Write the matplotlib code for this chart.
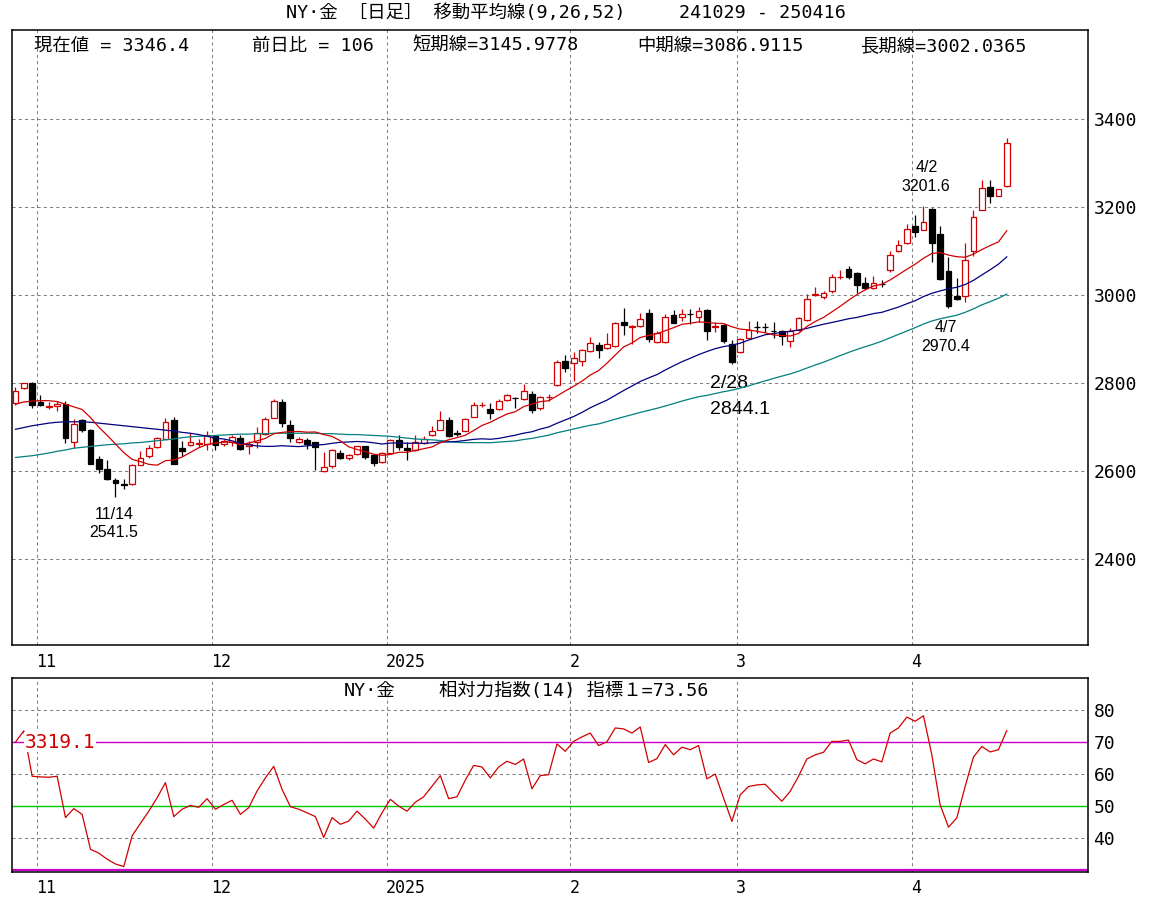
import numpy as np
import pandas as pd
import matplotlib
matplotlib.use("Agg")
import matplotlib.pyplot as plt
from matplotlib.patches import Rectangle
from matplotlib.transforms import blended_transform_factory

MONO = ['DejaVu Sans Mono', 'Noto Sans CJK JP']
SANS = ['Liberation Sans', 'DejaVu Sans']
plt.rcParams['font.family'] = MONO

# ---------------- data ----------------
dates = pd.bdate_range('2024-10-29', '2025-04-16')
dates = dates[~dates.isin(pd.to_datetime(['2024-12-25', '2025-01-01']))]

opens = [2754, 2788, 2800, 2758, 2745, 2747, 2753, 2667, 2715, 2694,
         2627, 2604, 2579, 2570, 2571, 2615, 2634, 2655, 2674, 2716,
         2652, 2660, 2662, 2662, 2679, 2662, 2667, 2676, 2656, 2666,
         2685, 2721, 2756, 2705, 2667, 2671, 2665, 2601, 2611, 2641,
         2630, 2639, 2656, 2637, 2620, 2641, 2671, 2653, 2648, 2663,
         2681, 2694, 2717, 2686, 2692, 2724, 2750, 2740, 2740, 2761,
         2766, 2763, 2776, 2743, 2768, 2795, 2851, 2845, 2850, 2873,
         2886, 2880, 2884, 2939, 2928, 2930, 2960, 2894, 2894, 2955,
         2951, 2958, 2950, 2967, 2928, 2931, 2888, 2870, 2903, 2928,
         2928, 2919, 2918, 2895, 2920, 2943, 3001, 2995, 3008, 3040,
         3059, 3051, 3027, 3017, 3025, 3056, 3099, 3118, 3157, 3148,
         3195, 3139, 3055, 2998, 2998, 3101, 3194, 3246, 3226, 3247]
highs = [2790, 2801, 2802, 2774, 2756, 2760, 2759, 2718, 2718, 2695,
         2634, 2625, 2585, 2582, 2617, 2645, 2660, 2678, 2721, 2724,
         2669, 2687, 2673, 2692, 2682, 2673, 2681, 2681, 2668, 2701,
         2724, 2763, 2763, 2717, 2677, 2676, 2667, 2643, 2650, 2648,
         2640, 2658, 2658, 2639, 2643, 2673, 2683, 2665, 2681, 2679,
         2702, 2736, 2724, 2694, 2721, 2757, 2758, 2755, 2763, 2776,
         2768, 2798, 2781, 2771, 2776, 2853, 2863, 2870, 2878, 2905,
         2894, 2913, 2939, 2970, 2932, 2959, 2968, 2919, 2957, 2965,
         2968, 2968, 2973, 2969, 2939, 2934, 2897, 2903, 2941, 2941,
         2937, 2939, 2921, 2924, 2950, 3002, 3018, 3010, 3048, 3057,
         3066, 3053, 3042, 3043, 3034, 3099, 3125, 3162, 3182, 3201.6,
         3198, 3157, 3087, 3038, 3118, 3194, 3262, 3262, 3241, 3357]
lows = [2750, 2786, 2744, 2747, 2741, 2737, 2663, 2652, 2689, 2616,
        2596, 2579, 2541.5, 2560, 2569, 2613, 2630, 2653, 2672, 2616,
        2634, 2656, 2654, 2647, 2647, 2658, 2656, 2647, 2639, 2652,
        2683, 2721, 2700, 2666, 2663, 2650, 2602, 2599, 2607, 2627,
        2626, 2637, 2627, 2611, 2618, 2640, 2647, 2625, 2646, 2662,
        2679, 2693, 2677, 2679, 2691, 2723, 2746, 2719, 2738, 2759,
        2744, 2761, 2733, 2739, 2760, 2794, 2825, 2805, 2838, 2871,
        2857, 2878, 2882, 2909, 2888, 2928, 2894, 2890, 2890, 2936,
        2942, 2934, 2939, 2898, 2916, 2891, 2844.1, 2868, 2901, 2914,
        2916, 2903, 2887, 2883, 2918, 2941, 2998, 2992, 3005, 3036,
        3036, 3004, 3013, 3013, 3019, 3053, 3097, 3116, 3132, 3147,
        3074, 3034, 2970.4, 2989, 2985, 3089, 3192, 3209, 3224, 3246]
closes = [2783, 2800, 2750, 2750, 2747, 2753, 2676, 2707, 2694, 2617,
          2605, 2583, 2574, 2569, 2615, 2630, 2652, 2675, 2711, 2617,
          2646, 2667, 2664, 2682, 2660, 2669, 2677, 2650, 2662, 2686,
          2719, 2759, 2710, 2676, 2672, 2662, 2654, 2610, 2647, 2629,
          2637, 2656, 2631, 2618, 2641, 2671, 2654, 2648, 2666, 2673,
          2692, 2717, 2679, 2685, 2719, 2751, 2751, 2732, 2760, 2773,
          2765, 2782, 2738, 2769, 2769, 2848, 2834, 2857, 2876, 2891,
          2874, 2888, 2937, 2933, 2930, 2945, 2901, 2913, 2949, 2936,
          2957, 2957, 2963, 2918, 2929, 2895, 2847, 2901, 2921, 2927,
          2927, 2918, 2908, 2918, 2947, 2990, 3002, 3005, 3040, 3041,
          3042, 3023, 3015, 3027, 3024, 3091, 3113, 3150, 3144, 3165,
          3119, 3036, 2975, 2990, 3080, 3177, 3243, 3226, 3240.4, 3346.4]

# moving-average values before enough closes exist
ma9_head = [2752, 2757, 2759, 2760, 2760, 2758, 2752, 2746]
ma26_head = [2695, 2699, 2703, 2706, 2709, 2711, 2712, 2712, 2712, 2711,
             2709, 2707, 2705, 2703, 2701, 2699, 2697, 2695, 2693, 2691,
             2688, 2686, 2683, 2679, 2675]
ma52_head = [2631, 2633, 2635, 2638, 2641, 2645, 2648, 2652, 2654, 2656,
             2658, 2660, 2661, 2662, 2664, 2665, 2667, 2669, 2671, 2673,
             2676, 2678, 2679, 2680, 2681, 2682, 2683, 2684, 2684, 2685,
             2685, 2686, 2686, 2686, 2686, 2686, 2686, 2685, 2685, 2684,
             2683, 2683, 2682, 2681, 2680, 2679, 2677, 2675, 2673, 2672,
             2671]

rsi14 = [70.0, 73.5, 59.3, 59.1, 59.0, 59.3, 46.4, 49.2, 47.4, 36.5,
         35.3, 33.4, 31.9, 31.1, 40.7, 44.6, 48.4, 52.6, 57.3, 46.7,
         49.0, 50.2, 49.6, 52.3, 49.0, 50.5, 51.8, 47.4, 49.5, 54.7,
         58.8, 62.4, 55.2, 49.8, 49.0, 47.9, 46.7, 40.2, 46.4, 44.3,
         45.3, 48.4, 45.9, 43.1, 47.9, 52.1, 50.0, 48.4, 51.2, 52.9,
         56.2, 59.5, 52.3, 52.9, 58.1, 62.7, 62.2, 58.8, 62.2, 64.0,
         63.0, 64.7, 55.4, 59.5, 59.8, 69.4, 67.1, 70.2, 71.6, 72.8,
         68.9, 70.1, 74.4, 74.1, 72.8, 74.7, 63.6, 64.8, 69.2, 66.0,
         68.4, 67.6, 68.9, 58.5, 60.0, 52.5, 45.2, 53.5, 56.1, 56.6,
         56.8, 54.1, 51.5, 54.6, 59.3, 64.7, 66.0, 66.8, 70.2, 70.2,
         70.6, 64.5, 63.2, 64.7, 63.8, 72.8, 74.4, 77.8, 76.5, 78.2,
         66.0, 50.4, 43.4, 46.3, 56.1, 65.3, 68.6, 66.9, 67.6, 73.56]

price_ticks = [2400, 2600, 2800, 3000, 3200, 3400]
rsi_ticks = [40, 50, 60, 70, 80]

title_left = 'NY·金 ［日足］ 移動平均線(9,26,52)'
title_right = '241029 - 250416'
header = ['現在値 = 3346.4', '前日比 = 106', '短期線=3145.9778',
          '中期線=3086.9115', '長期線=3002.0365']
rsi_title_left = 'NY·金'
rsi_title_right = '相対力指数(14) 指標１=73.56'
marks = [(12, '11/14', '2541.5'), (86, '2/28', '2844.1'),
         (109, '4/2', '3201.6'), (112, '4/7', '2970.4')]

# ---------------- derived ----------------
n = len(closes)
cs = pd.Series(closes, dtype=float)
ma9 = cs.rolling(9).mean().to_numpy()
ma9[:len(ma9_head)] = ma9_head
ma26 = cs.rolling(26).mean().to_numpy()
ma26[:len(ma26_head)] = ma26_head
ma52 = cs.rolling(52).mean().to_numpy()
ma52[:len(ma52_head)] = ma52_head

month_starts = [i for i in range(1, n) if dates[i].month != dates[i - 1].month]
month_labels = [str(dates[i].year) if dates[i].month == 1 else str(dates[i].month)
                for i in month_starts]

# ---------------- figure ----------------
W, H = 1171, 902
fig = plt.figure(figsize=(W / 100, H / 100), dpi=100)
fig.patch.set_facecolor('white')


def fx(px):
    return px / W


def fy(py):
    return 1 - py / H


ax = fig.add_axes([fx(12), fy(645), fx(1088) - fx(12), fy(30) - fy(645)])
ax2 = fig.add_axes([fx(12), fy(872), fx(1088) - fx(12), fy(678) - fy(872)])

XL = (-0.42, 128.75)
RED = '#d00000'
NAVY = '#000080'
TEAL = '#008080'
GRID = dict(color='#808080', lw=0.75, ls=(0, (3, 3)), zorder=1)

for a in (ax, ax2):
    a.set_xlim(*XL)
    a.set_xticks([])
    for s in a.spines.values():
        s.set_linewidth(1.1)
        s.set_color('black')
    for m in month_starts:
        a.axvline(m - 0.42, **GRID)
    a.yaxis.tick_right()
    a.tick_params(axis='y', length=0, pad=4, labelsize=13)

ax.set_ylim(2205, 3602)
ax.set_yticks(price_ticks)
ax.set_yticklabels([str(v) for v in price_ticks])
for v in price_ticks:
    ax.axhline(v, **GRID)

# candles
bw = 0.7
for i in range(n):
    o, h, l, c = opens[i], highs[i], lows[i], closes[i]
    up = c >= o
    col = RED if up else 'black'
    ax.vlines(i, l, h, color=col, lw=0.9, zorder=3)
    lo = min(o, c)
    hgt = abs(c - o)
    ax.add_patch(Rectangle((i - bw / 2, lo), bw, hgt,
                           facecolor='white' if up else 'black',
                           edgecolor=col, lw=0.9, zorder=4))

x = np.arange(n)
ax.plot(x, ma52, color=TEAL, lw=0.9, zorder=5)
ax.plot(x, ma26, color=NAVY, lw=0.9, zorder=5)
ax.plot(x, ma9, color=RED, lw=0.9, zorder=5)

# annotations (offsets in points from the marked high/low)
for idx, d, v in marks:
    val = float(v)
    if d == '2/28':
        ax.annotate(d, (idx, val), xytext=(-16, -14), textcoords='offset points',
                    ha='left', va='center', fontsize=14, family=SANS)
        ax.annotate(v, (idx, val), xytext=(-16, -33), textcoords='offset points',
                    ha='left', va='center', fontsize=14, family=SANS)
    elif d == '4/7':
        ax.annotate(d, (idx, val), xytext=(-2, -14), textcoords='offset points',
                    ha='center', va='center', fontsize=11.5, family=SANS)
        ax.annotate(v, (idx, val), xytext=(-2, -28), textcoords='offset points',
                    ha='center', va='center', fontsize=11.5, family=SANS)
    elif d == '4/2':
        ax.annotate(d, (idx, val), xytext=(2, 28), textcoords='offset points',
                    ha='center', va='center', fontsize=11.5, family=SANS)
        ax.annotate(v, (idx, val), xytext=(2, 14), textcoords='offset points',
                    ha='center', va='center', fontsize=11.5, family=SANS)
    else:
        ax.annotate(d, (idx, val), xytext=(-1, -13), textcoords='offset points',
                    ha='center', va='center', fontsize=11.5, family=SANS)
        ax.annotate(v, (idx, val), xytext=(-1, -26), textcoords='offset points',
                    ha='center', va='center', fontsize=11.5, family=SANS)

# header row inside main panel
hx = [34, 252, 412, 637, 860]
for xp, t in zip(hx, header):
    fig.text(fx(xp), fy(46), t, ha='left', va='center', fontsize=13.2)

# title
fig.text(fx(286), fy(13), title_left, ha='left', va='center', fontsize=13.2)
fig.text(fx(762), fy(13), title_right, ha='center', va='center', fontsize=13.2)

# month labels
for a, ypx in ((ax, 662), (ax2, 888)):
    tr = blended_transform_factory(a.transData, fig.transFigure)
    for m, lab in zip(month_starts, month_labels):
        a.text(m - 0.5, fy(ypx), lab, transform=tr, ha='left', va='center',
               fontsize=12)

# ---------------- RSI panel ----------------
ax2.set_ylim(29.4, 90)
ax2.set_yticks(rsi_ticks)
ax2.set_yticklabels([str(v) for v in rsi_ticks])
for v in rsi_ticks:
    ax2.axhline(v, **GRID)
ax2.axhline(70, color='#cc00cc', lw=1.0, zorder=2)
ax2.axhline(50, color='#00cc00', lw=1.0, zorder=2)
ax2.axhline(30, color='#cc00cc', lw=1.6, zorder=2)
ax2.plot(x, rsi14, color=RED, lw=0.9, zorder=5)
ax2.text(fx(25), 70, '3319.1', transform=blended_transform_factory(fig.transFigure, ax2.transData),
         ha='left', va='center', fontsize=14, color=RED, zorder=6,
         bbox=dict(facecolor='white', edgecolor='none', pad=0.5))
fig.text(fx(344), fy(691), rsi_title_left, ha='left', va='center', fontsize=13.2)
fig.text(fx(439), fy(691), rsi_title_right, ha='left', va='center', fontsize=13.2)

fig.savefig('out.png', dpi=100, facecolor='white')
